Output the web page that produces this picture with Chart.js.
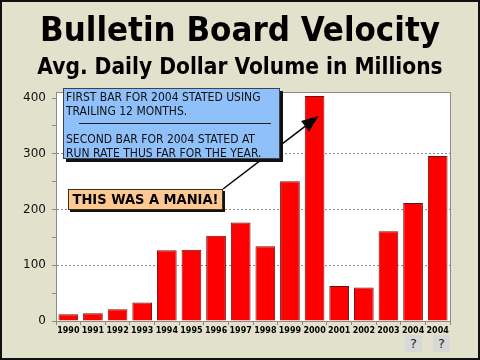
<!DOCTYPE html>
<html>
<head>
<meta charset="utf-8">
<script src="https://cdn.jsdelivr.net/npm/chart.js@4.4.0/dist/chart.umd.min.js"></script>
<style>
html,body{margin:0;padding:0;background:#e2e2cc}
#page{position:relative;width:480px;height:360px;overflow:hidden;background:#e2e2cc}
#c{position:absolute;left:0;top:0}
#frame{position:absolute;left:0;top:0;width:480px;height:360px;box-sizing:border-box;border:2px solid #111;pointer-events:none}
.t{position:absolute;left:0;width:480px;text-align:center;font-family:"DejaVu Sans Condensed","DejaVu Sans",sans-serif;font-weight:bold;color:#000;white-space:nowrap}
#title{top:8px;font-size:34.5px;line-height:42px}
#sub{top:52px;font-size:22.5px;line-height:28px}
#note{position:absolute;left:63px;top:88px;width:217px;height:71px;box-sizing:border-box;background:#8fc0fa;border:1px solid #3a4250;box-shadow:3px 3px 0 #111;font-family:"DejaVu Sans Condensed","DejaVu Sans",sans-serif;font-size:12px;line-height:14px;color:#111;padding:1px 2px;white-space:nowrap}
#note .rule{height:0;border-top:1px solid #222;margin:5px 6px 8px 13px}
#mania{position:absolute;left:68px;top:189px;width:155px;height:21px;box-sizing:border-box;background:#ffc891;border:1px solid #3a3020;box-shadow:2px 2px 0 #111;font-family:"DejaVu Sans Condensed","DejaVu Sans",sans-serif;font-weight:bold;font-size:14.5px;line-height:19px;text-align:center;color:#000;white-space:nowrap}
.q{position:absolute;top:335px;width:17px;height:17px;background:#d8d8d6;font-family:"DejaVu Sans",sans-serif;font-size:13px;line-height:17px;text-align:center;color:#223}
</style>
</head>
<body>
<div id="page">
  <canvas id="c" width="480" height="360"></canvas>
  <div class="t" id="title">Bulletin Board Velocity</div>
  <div class="t" id="sub">Avg. Daily Dollar Volume in Millions</div>
  <div id="note">FIRST BAR FOR 2004 STATED USING<br>TRAILING 12 MONTHS.<div class="rule"></div>SECOND BAR FOR 2004 STATED AT<br>RUN RATE THUS FAR FOR THE YEAR.</div>
  <div id="mania">THIS WAS A MANIA!</div>
  <div class="q" style="left:405px">?</div>
  <div class="q" style="left:433px">?</div>
  <div id="frame"></div>
</div>
<script>
  const years = ['1990','1991','1992','1993','1994','1995','1996','1997','1998','1999','2000','2001','2002','2003','2004','2004']
  const volume = [12, 14, 21, 33, 127, 128, 153, 177, 134, 251, 404, 63, 60, 161, 212, 296]
  const yTickValues = [0, 50, 100, 150, 200, 250, 300, 350, 400]
  const yGridValues = [100, 200, 300]
  const arrowTarget = { index: 10, value: 368 }

  // white plot area + grey border + arrow
  const plotBox = {
    id: 'plotBox',
    beforeDraw(chart){
      const a = chart.chartArea, ctx = chart.ctx
      ctx.save()
      ctx.fillStyle = '#ffffff'
      ctx.fillRect(a.left, a.top, a.right - a.left, a.bottom - a.top)
      ctx.restore()
    },
    afterDatasetsDraw(chart){
      const a = chart.chartArea, ctx = chart.ctx
      ctx.save()
      ctx.setLineDash([])
      ctx.strokeStyle = '#8a8a8a'
      ctx.lineWidth = 1
      ctx.strokeRect(Math.round(a.left) + 0.5, Math.round(a.top) + 0.5, Math.round(a.right - a.left), Math.round(a.bottom - a.top))
      ctx.restore()
    },
    afterDraw(chart){
      const ctx = chart.ctx
      const x2 = chart.scales.x.getPixelForValue(arrowTarget.index) + 4
      const y2 = chart.scales.y.getPixelForValue(arrowTarget.value)
      const x1 = 223, y1 = 189
      const ang = Math.atan2(y2 - y1, x2 - x1)
      const len = 17, half = 6.5
      const bx = x2 - len * Math.cos(ang), by = y2 - len * Math.sin(ang)
      ctx.save()
      ctx.setLineDash([])
      ctx.strokeStyle = '#000'
      ctx.lineWidth = 1.5
      ctx.beginPath()
      ctx.moveTo(x1, y1)
      ctx.lineTo(bx, by)
      ctx.stroke()
      ctx.fillStyle = '#000'
      ctx.beginPath()
      ctx.moveTo(x2, y2)
      ctx.lineTo(bx + half * Math.sin(ang), by - half * Math.cos(ang))
      ctx.lineTo(bx - half * Math.sin(ang), by + half * Math.cos(ang))
      ctx.closePath()
      ctx.fill()
      ctx.restore()
    }
  }

  new Chart(document.getElementById('c'), {
    type: 'bar',
    data: {
      labels: years,
      datasets: [{
        data: volume,
        backgroundColor: '#ff0000',
        borderColor: '#6a1010',
        borderWidth: 1,
        borderSkipped: 'bottom',
        barPercentage: 0.8,
        categoryPercentage: 1
      }]
    },
    options: {
      responsive: false,
      animation: false,
      devicePixelRatio: 1,
      layout: { padding: { left: 0, top: 92, right: 30, bottom: 19 } },
      plugins: { legend: { display: false }, tooltip: { enabled: false } },
      scales: {
        x: {
          afterFit(s){ s.height = 20 },
          grid: { offset: true, drawOnChartArea: false, tickLength: 4, color: '#8a8a8a' },
          border: { color: '#8a8a8a' },
          ticks: { color: '#000', padding: 1, maxRotation: 0, autoSkip: false, font: { family: 'DejaVu Sans', weight: 'bold', size: 8 } }
        },
        y: {
          min: 0,
          max: 411,
          afterFit(s){ s.width = 56 },
          afterBuildTicks(s){ s.ticks = yTickValues.map(v => ({ value: v })) },
          grid: {
            tickLength: 4,
            tickColor: '#8a8a8a',
            tickBorderDash: [],
            color: c => (c.tick && yGridValues.includes(c.tick.value)) ? '#8c8c8c' : 'rgba(0,0,0,0)'
          },
          border: { color: '#8a8a8a', dash: [2, 2] },
          ticks: {
            padding: 6,
            color: '#111',
            font: { family: 'DejaVu Sans', size: 12 },
            callback: v => v % 100 === 0 ? v : ''
          }
        }
      }
    },
    plugins: [plotBox]
  })
</script>
</body>
</html>
